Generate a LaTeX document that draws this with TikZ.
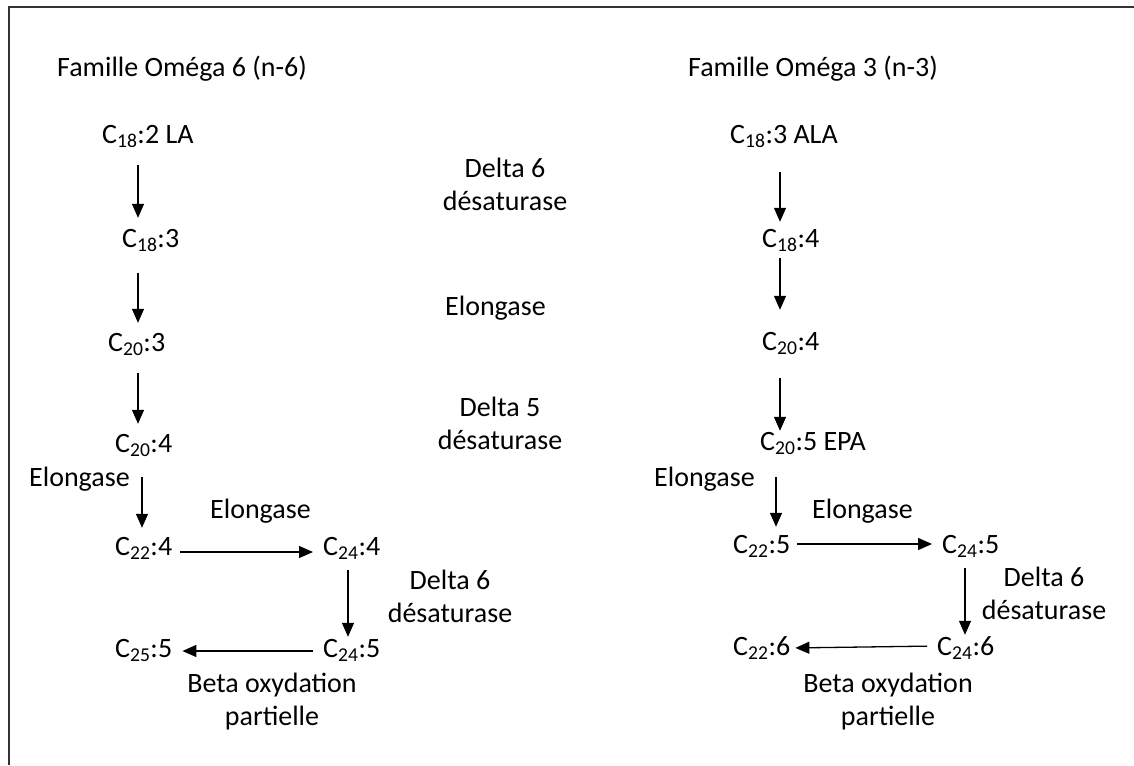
\documentclass[tikz,border=0pt]{standalone}
\usepackage{fontspec}
\setmainfont{Carlito}
\usetikzlibrary{arrows.meta}

\tikzset{
  txt/.style={font=\fontsize{28}{33}\selectfont, inner sep=0pt, text height=19pt, text depth=7pt, anchor=base west},
  twoline/.style={font=\fontsize{28}{33}\selectfont, inner sep=0pt, align=center, anchor=north},
  arr/.style={line width=1.3pt, -{Triangle[length=14pt,width=12pt]}, shorten <=16pt, shorten >=9pt}
}

\begin{document}
\begin{tikzpicture}[x=1pt,y=-1pt]
\useasboundingbox (0,0) rectangle (1134,765);
\draw[line width=2pt, black!80] (9,765) -- (9,7) -- (1134,7);

% omega 6
\node[txt] (titleL) at (57,77) {Famille Oméga 6 (n-6)};
\node[txt] (la) at (102,143) {C\textsubscript{18}:2 LA};
\node[txt] (c183) at (122,247) {C\textsubscript{18}:3};
\node[txt] (c203) at (108,351) {C\textsubscript{20}:3};
\node[txt] (c204) at (115,452) {C\textsubscript{20}:4};
\node[txt] (elL) at (29,486) {Elongase};
\node[txt] (c224) at (115,555) {C\textsubscript{22}:4};
\node[txt] (elL2) at (210,518) {Elongase};
\node[txt] (c244) at (323,555) {C\textsubscript{24}:4};
\node[twoline] (d6L) at (450,570) {Delta 6\\désaturase};
\node[txt] (c255) at (115,657) {C\textsubscript{25}:5};
\node[txt] (c245) at (323,657) {C\textsubscript{24}:5};
\node[twoline] (betaL) at (272,673) {Beta oxydation\\partielle};

% enzymes
\node[twoline] (d6) at (505,158) {Delta 6\\désaturase};
\node[txt] (elM) at (445,315) {Elongase};
\node[twoline] (d5) at (500,397) {Delta 5\\désaturase};

% omega 3
\node[txt] (titleR) at (688,77) {Famille Oméga 3 (n-3)};
\node[txt] (ala) at (730,143) {C\textsubscript{18}:3 ALA};
\node[txt] (c184) at (762,247) {C\textsubscript{18}:4};
\node[txt] (c204r) at (762,350) {C\textsubscript{20}:4};
\node[txt] (epa) at (760,450) {C\textsubscript{20}:5 EPA};
\node[txt] (elR) at (654,486) {Elongase};
\node[txt] (c225) at (733,553) {C\textsubscript{22}:5};
\node[txt] (elR2) at (812,518) {Elongase};
\node[txt] (c245r) at (942,553) {C\textsubscript{24}:5};
\node[twoline] (d6R) at (1044,567) {Delta 6\\désaturase};
\node[txt] (c226) at (733,655) {C\textsubscript{22}:6};
\node[txt] (c246) at (937,655) {C\textsubscript{24}:6};
\node[twoline] (betaR) at (888,673) {Beta oxydation\\partielle};

% arrows omega 6
\draw[arr, shorten <=15pt, shorten >=10pt] (la.south -| 138,0) -- (c183.north -| 138,0);
\draw[arr, shorten <=19pt] (c183.south -| 138,0) -- (c203.north -| 138,0);
\draw[arr, shorten <=15pt] (c203.south -| 138,0) -- (c204.north -| 138,0);
\draw[arr, shorten <=18pt, shorten >=8pt] (c204.south -| 142,0) -- (c224.north -| 142,0);
\draw[arr, shorten <=8pt, shorten >=10pt] ([yshift=-3pt]c224.east) -- ([yshift=-3pt]c224.east -| c244.west);
\draw[arr, shorten <=8pt, shorten >=1pt] (c244.south -| 348,0) -- (c245.north -| 348,0);
\draw[arr, shorten <=10pt, shorten >=10pt] (c245.west) -- (c245.west -| c255.east);

% arrows omega 3
\draw[arr, shorten <=22pt, shorten >=6pt] (ala.south -| 780,0) -- (c184.north -| 780,0);
\draw[arr, shorten <=4pt, shorten >=21pt] (c184.south -| 780,0) -- (c204r.north -| 780,0);
\draw[arr, shorten <=21pt, shorten >=0pt] (c204r.south -| 780,0) -- (epa.north -| 780,0);
\draw[arr, shorten <=20pt, shorten >=7pt] (epa.south -| 776,0) -- (c225.north -| 776,0);
\draw[arr, shorten <=7pt, shorten >=10pt] ([yshift=3pt]c225.east) -- ([yshift=3pt]c225.east -| c245r.west);
\draw[arr, shorten <=8pt, shorten >=1pt] (c245r.south -| 965,0) -- (c246.north -| 965,0);
\draw[arr, shorten <=10pt, shorten >=5pt] ([yshift=3pt]c246.west) -- ([yshift=1pt]c226.east);
\end{tikzpicture}
\end{document}
